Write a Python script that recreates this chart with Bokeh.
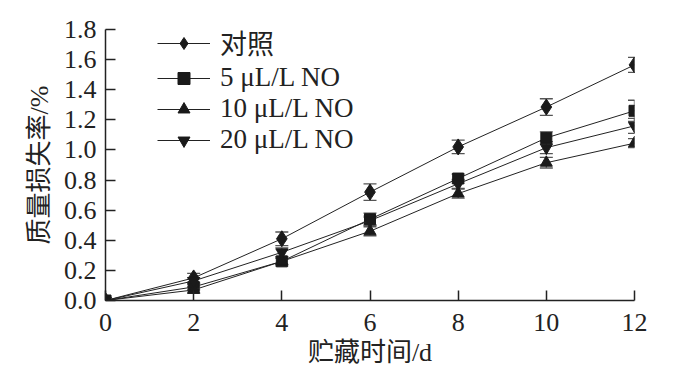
from bokeh.plotting import figure
from bokeh.models import ColumnDataSource, Whisker, TeeHead, Legend, LegendItem, FixedTicker
from bokeh.embed import file_html
from bokeh.resources import INLINE

days = [0, 2, 4, 6, 8, 10, 12]
series_names = ["对照", "5 μL/L NO", "10 μL/L NO", "20 μL/L NO"]
ck = [0, 0.15, 0.41, 0.72, 1.02, 1.285, 1.565]
ck_err = [0, 0.03, 0.045, 0.055, 0.045, 0.055, 0.05]
no5 = [0, 0.09, 0.26, 0.54, 0.81, 1.08, 1.26]
no5_err = [0, 0.02, 0.03, 0.04, 0.03, 0.04, 0.07]
no10 = [0, 0.07, 0.26, 0.46, 0.71, 0.915, 1.045]
no10_err = [0, 0.02, 0.02, 0.03, 0.03, 0.035, 0.03]
no20 = [0, 0.13, 0.32, 0.53, 0.775, 1.015, 1.16]
no20_err = [0, 0.02, 0.03, 0.03, 0.03, 0.04, 0.05]
x_ticks = [0, 2, 4, 6, 8, 10, 12]
y_ticks = [0.0, 0.2, 0.4, 0.6, 0.8, 1.0, 1.2, 1.4, 1.6, 1.8]

W, H = 670, 375
p = figure(width=W, height=H, output_backend="svg", toolbar_location=None,
           x_range=(0, 12), y_range=(0, 1.8),
           min_border_left=105, min_border_right=W - 634, min_border_top=29,
           min_border_bottom=H - 300)
p.outline_line_color = None
p.xgrid.visible = False
p.ygrid.visible = False
p.background_fill_color = "white"

serif = "Liberation Serif, Noto Sans CJK SC"
for ax in (p.xaxis[0], p.yaxis[0]):
    ax.axis_line_width = 1.5
    ax.axis_line_color = "#222222"
    ax.major_tick_line_color = "#222222"
    ax.major_tick_line_width = 1.5
    ax.major_tick_in = 10
    ax.major_tick_out = 0
    ax.minor_tick_line_color = None
    ax.major_label_text_font = serif
    ax.major_label_text_font_size = "26px"
    ax.major_label_text_color = "#222222"
    ax.axis_label_text_font = serif
    ax.axis_label_text_font_size = "26px"
    ax.axis_label_text_font_style = "normal"
    ax.axis_label_text_color = "#222222"

p.xaxis.ticker = FixedTicker(ticks=x_ticks)
p.yaxis.ticker = FixedTicker(ticks=y_ticks)
p.yaxis.major_label_overrides = {t: f"{t:.1f}" for t in y_ticks}
p.xaxis.axis_label = "贮藏时间/d"
p.yaxis.axis_label = "质量损失率/%"
p.xaxis.major_label_standoff = 13
p.yaxis.major_label_standoff = 9
p.xaxis.axis_label_standoff = 4
p.yaxis.axis_label_standoff = 7

vals = [ck, no5, no10, no20]
errs = [ck_err, no5_err, no10_err, no20_err]
markers = ["diamond", "square", "triangle", "inverted_triangle"]
sizes = [16, 11, 12, 12]
items = []
for name, v, e, m, s in zip(series_names, vals, errs, markers, sizes):
    src = ColumnDataSource(dict(x=days, y=v,
                                lo=[a - b for a, b in zip(v, e)],
                                hi=[a + b for a, b in zip(v, e)]))
    w = Whisker(source=src, base="x", upper="hi", lower="lo",
                line_color="#555555", line_width=1.3,
                upper_head=TeeHead(size=13, line_color="#555555", line_width=1.3),
                lower_head=TeeHead(size=13, line_color="#555555", line_width=1.3))
    p.add_layout(w)
    l = p.line("x", "y", source=src, line_color="#222222", line_width=1)
    r = p.scatter("x", "y", source=src, marker=m, size=s,
                  fill_color="#1a1a1a", line_color="#1a1a1a")
    items.append(LegendItem(label=name, renderers=[l, r]))

legend = Legend(items=items, location=(52, 145), padding=0, margin=0,
                spacing=0, glyph_width=53, glyph_height=30, label_height=30,
                label_standoff=10, border_line_alpha=0, background_fill_alpha=0,
                label_text_font=serif, label_text_font_size="27px",
                label_text_color="#222222")
p.add_layout(legend)

open("out.html", "w").write(file_html(p, INLINE))
